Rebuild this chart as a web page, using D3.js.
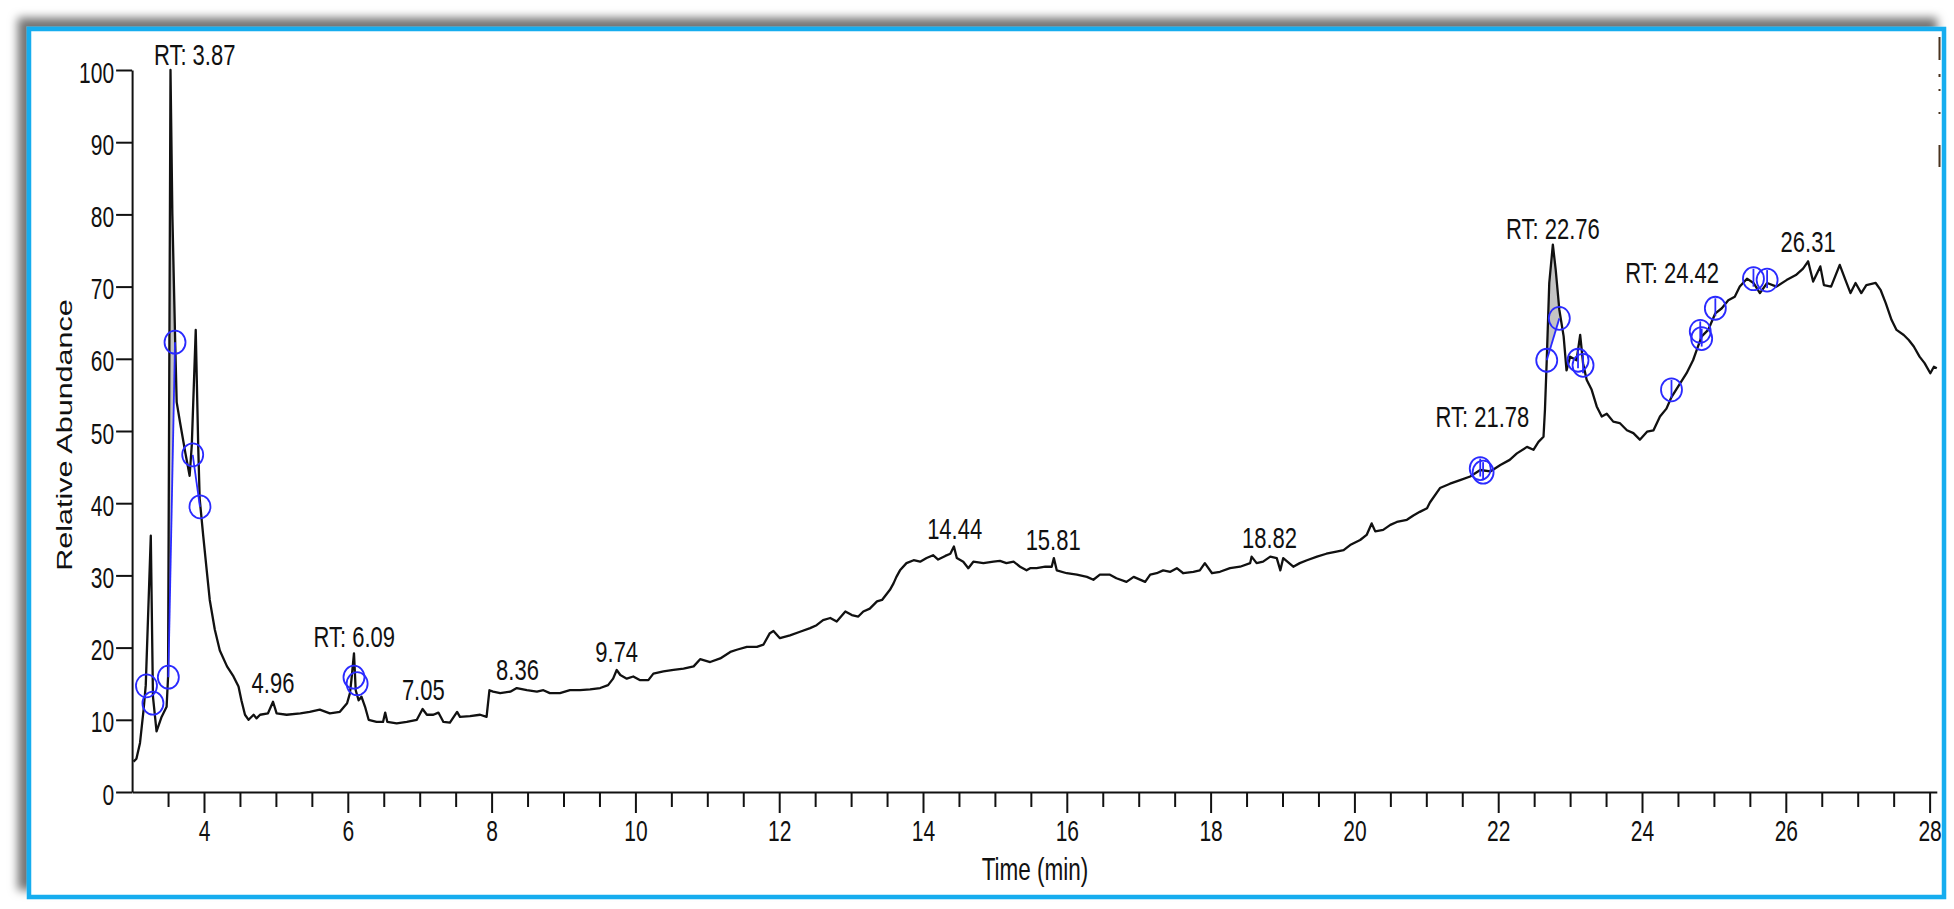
<!DOCTYPE html>
<html>
<head>
<meta charset="utf-8">
<script src="https://cdn.jsdelivr.net/npm/d3@7"></script>
<style>
	html, body {
		padding: 0;
		margin: 0;
		background: #fff;
	}
	svg { display: block; }
</style>
</head>
<body>
<script>
	var width = 1954, height = 909;
	var stretch = 1.37;   // the source picture is stretched vertically

	// chromatogram trace, [time (min), relative abundance]
	var trace = [
		[3.02,4.2],[3.06,4.6],[3.11,6.8],[3.16,11.4],[3.19,14.8],[3.26,35.5],[3.29,13.2],[3.34,8.4],
		[3.41,10.4],[3.48,11.8],[3.50,15.9],[3.534,100],[3.56,80],[3.60,62],[3.62,54],[3.67,51],
		[3.74,47],[3.80,43.8],[3.83,48],[3.885,64],[3.92,47.7],[3.94,40.6],[3.99,35.4],[4.04,30.5],
		[4.08,26.6],[4.15,22.5],[4.22,19.6],[4.32,17.4],[4.41,16.0],[4.48,14.6],[4.52,12.7],[4.57,10.7],
		[4.62,10.0],[4.69,10.7],[4.73,10.2],[4.78,10.7],[4.89,10.9],[4.96,12.5],[5.01,10.9],[5.15,10.7],
		[5.34,10.9],[5.47,11.1],[5.61,11.4],[5.75,10.9],[5.89,11.1],[5.99,12.3],[6.03,13.7],[6.05,15.5],
		[6.086,19.2],[6.11,14.1],[6.15,12.7],[6.19,13.2],[6.24,11.8],[6.29,10.0],[6.40,9.7],[6.49,9.7],
		[6.52,11.0],[6.55,9.7],[6.68,9.5],[6.82,9.7],[6.96,10.0],[7.04,11.5],[7.10,10.7],[7.19,10.7],
		[7.26,11.0],[7.33,9.7],[7.42,9.6],[7.52,11.1],[7.56,10.4],[7.70,10.5],[7.84,10.7],[7.93,10.4],
		[7.97,14.1],[8.02,13.9],[8.12,13.7],[8.26,13.9],[8.35,14.4],[8.49,14.1],[8.63,13.9],[8.72,14.1],
		[8.81,13.7],[8.95,13.7],[9.09,14.1],[9.23,14.1],[9.37,14.2],[9.51,14.4],[9.62,14.8],[9.69,15.7],
		[9.74,16.9],[9.79,16.2],[9.88,15.7],[9.97,16.0],[10.06,15.5],[10.18,15.5],[10.25,16.4],[10.39,16.7],
		[10.53,16.9],[10.67,17.1],[10.81,17.4],[10.90,18.4],[11.04,18.0],[11.18,18.5],[11.32,19.4],[11.41,19.7],
		[11.55,20.1],[11.69,20.1],[11.78,20.4],[11.87,22.0],[11.92,22.3],[12.01,21.3],[12.15,21.7],[12.29,22.2],
		[12.43,22.7],[12.52,23.1],[12.61,23.8],[12.71,24.1],[12.80,23.6],[12.92,25.0],[13.01,24.5],[13.10,24.3],
		[13.17,25.0],[13.26,25.4],[13.36,26.4],[13.43,26.6],[13.50,27.5],[13.54,28.0],[13.59,28.9],[13.63,29.8],
		[13.68,30.7],[13.77,31.7],[13.87,32.1],[13.96,31.9],[14.05,32.4],[14.14,32.8],[14.21,32.2],[14.31,32.7],
		[14.38,33.0],[14.43,34.0],[14.47,32.4],[14.56,31.9],[14.63,31.0],[14.70,31.9],[14.84,31.7],[14.98,31.9],
		[15.07,32.0],[15.16,31.7],[15.26,31.9],[15.35,31.2],[15.44,30.7],[15.49,31.0],[15.58,31.0],[15.70,31.2],
		[15.79,31.2],[15.82,32.4],[15.86,30.7],[16.00,30.3],[16.14,30.1],[16.28,29.8],[16.37,29.4],[16.46,30.1],
		[16.60,30.1],[16.69,29.6],[16.83,29.1],[16.93,29.8],[17.09,29.1],[17.16,30.1],[17.25,30.3],[17.34,30.7],
		[17.44,30.5],[17.53,31.0],[17.62,30.3],[17.76,30.5],[17.85,30.7],[17.92,31.7],[18.02,30.3],[18.13,30.5],
		[18.27,31.0],[18.41,31.2],[18.55,31.7],[18.57,32.6],[18.64,31.7],[18.73,31.9],[18.83,32.6],[18.92,32.4],
		[18.97,30.7],[19.01,32.4],[19.15,31.2],[19.24,31.7],[19.34,32.1],[19.48,32.6],[19.61,33.0],[19.75,33.3],
		[19.85,33.5],[19.94,34.2],[20.08,34.9],[20.17,35.6],[20.24,37.2],[20.29,36.1],[20.40,36.3],[20.50,37.0],
		[20.59,37.4],[20.73,37.7],[20.82,38.3],[20.91,38.8],[21.01,39.3],[21.05,40.1],[21.19,42.1],[21.33,42.7],
		[21.47,43.2],[21.61,43.7],[21.75,44.6],[21.89,44.4],[22.03,45.3],[22.16,46.0],[22.26,46.9],[22.40,47.8],
		[22.49,47.4],[22.56,48.5],[22.63,49.2],[22.65,52.9],[22.675,59.8],[22.71,70.5],[22.76,75.8],[22.80,72.3],
		[22.85,66.8],[22.91,63.1],[22.95,58.4],[23.00,60.3],[23.09,59.8],[23.14,63.3],[23.18,59.4],[23.23,57.1],
		[23.30,55.7],[23.37,53.4],[23.44,52.0],[23.51,52.4],[23.60,51.3],[23.69,51.1],[23.79,50.1],[23.88,49.7],
		[23.97,48.8],[24.07,49.9],[24.16,50.1],[24.25,52.0],[24.34,53.1],[24.41,54.7],[24.53,56.6],[24.62,58.0],
		[24.71,59.8],[24.76,61.2],[24.83,63.1],[24.92,64.0],[25.02,66.3],[25.11,67.0],[25.20,68.1],[25.29,68.6],
		[25.36,70.0],[25.46,71.1],[25.55,70.5],[25.64,69.1],[25.74,70.5],[25.87,70.0],[26.01,70.9],[26.14,71.6],
		[26.24,72.5],[26.31,73.5],[26.38,70.7],[26.48,72.8],[26.53,70.2],[26.63,70.0],[26.75,73.0],[26.83,70.9],
		[26.90,69.1],[26.97,70.5],[27.05,69.1],[27.12,70.2],[27.25,70.5],[27.32,69.5],[27.39,67.7],[27.47,65.4],
		[27.54,64.0],[27.64,63.3],[27.71,62.6],[27.78,61.7],[27.86,60.3],[27.93,59.4],[28.01,58.0],[28.06,58.9],
		[28.10,58.7]
	];

	// blue marker circles [time, abundance, has vertical cursor]
	var markers = [
		[3.20,14.7,0],[3.29,12.3,0],[3.504,15.9,0],[3.597,62.3,0],[3.843,46.7,0],[3.944,39.5,0],
		[6.086,15.9,0],[6.13,15.0,0],
		[21.75,44.8,1],[21.79,44.3,1],[22.675,59.8,0],[22.85,65.6,0],[23.11,59.8,1],[23.18,59.1,1],
		[24.41,55.7,1],[24.81,63.8,1],[24.83,62.8,1],[25.02,67.0,1],[25.55,71.1,1],[25.74,70.9,1]
	];
	// marker pairs joined by a blue line, area between line and trace shaded
	var markerLinks = [[2,3],[4,5],[10,11]];
	var shadedPeaks = [[2,3],[10,11]];

	// peak labels [text, time, abundance of baseline]
	var peakLabels = [
		["RT: 3.87",3.87,100.7],["4.96",4.96,13.7],["RT: 6.09",6.09,20.1],["7.05",7.05,12.7],
		["8.36",8.36,15.5],["9.74",9.74,18.0],["14.44",14.44,35.0],["15.81",15.81,33.5],
		["18.82",18.82,33.8],["RT: 21.78",21.78,50.6],["RT: 22.76",22.76,76.6],
		["RT: 24.42",24.42,70.5],["26.31",26.31,74.8]
	];

	var xMajor = [4,6,8,10,12,14,16,18,20,22,24,26,28];
	var xMinor = d3.range(3.5, 28.01, 0.5).filter(function(d){ return xMajor.indexOf(d) < 0; });
	var yTicks = [0,10,20,30,40,50,60,70,80,90,100];

	var font = '"Liberation Sans", Arial, sans-serif';

	var svg = d3.select('body').append('svg')
		.attr('width', width)
		.attr('height', height);

	var defs = svg.append('defs');
	defs.append('filter').attr('id', 'shadow')
		.attr('x', '-3%').attr('y', '-5%').attr('width', '106%').attr('height', '110%')
		.append('feDropShadow')
		.attr('dx', -9).attr('dy', -9).attr('stdDeviation', 5)
		.attr('flood-color', '#000').attr('flood-opacity', 0.55);

	// frame
	svg.append('rect')
		.attr('x', 29).attr('y', 29).attr('width', 1915).attr('height', 868)
		.attr('fill', '#fff')
		.attr('stroke', '#12adef')
		.attr('stroke-width', 4.5)
		.attr('filter', 'url(#shadow)');

	var x = d3.scaleLinear().domain([3, 28.1]).range([132.1, 1936.8]);
	var y = d3.scaleLinear().domain([0, 100]).range([792, 70]);

	// x axis, minor then major ticks
	var gxMinor = svg.append('g')
		.attr('transform', 'translate(0,' + y(0) + ')')
		.call(d3.axisBottom(x).tickValues(xMinor).tickSize(15).tickSizeOuter(0).tickFormat(''));
	gxMinor.select('.domain').remove();

	var gx = svg.append('g')
		.attr('transform', 'translate(0,' + y(0) + ')')
		.call(d3.axisBottom(x).tickValues(xMajor).tickSize(21).tickSizeOuter(0).tickFormat(d3.format('d')))
		.attr('font-family', font).attr('font-size', 21).attr('color', '#111');
	gx.selectAll('.tick text')
		.attr('y', 35.8).attr('dy', 0)
		.attr('transform', 'scale(1,' + stretch + ')');

	var gy = svg.append('g')
		.attr('transform', 'translate(' + x(3) + ',0)')
		.call(d3.axisLeft(y).tickValues(yTicks).tickSize(16).tickSizeOuter(0))
		.attr('font-family', font).attr('font-size', 21).attr('color', '#111');
	gy.selectAll('.tick text')
		.attr('x', -18).attr('dy', 0).attr('y', 0)
		.attr('transform', 'translate(0,12) scale(1,' + stretch + ')');

	svg.selectAll('.domain, .tick line')
		.attr('stroke', '#111').attr('stroke-width', 2);

	// axis titles
	svg.append('text')
		.attr('transform', 'translate(1035,880) scale(1,' + stretch + ')')
		.attr('text-anchor', 'middle')
		.attr('font-family', font).attr('font-size', 22.5).attr('fill', '#111')
		.text('Time (min)');

	svg.append('text')
		.attr('transform', 'translate(72,435) scale(1,' + stretch + ') rotate(-90)')
		.attr('text-anchor', 'middle')
		.attr('font-family', font).attr('font-size', 22.3).attr('fill', '#111')
		.text('Relative Abundance');

	var line = d3.line()
		.x(function(d){ return x(d[0]); })
		.y(function(d){ return y(d[1]); });

	// shaded peak areas, trace between two markers closed by a straight line
	shadedPeaks.forEach(function(p){
		var a = markers[p[0]], b = markers[p[1]];
		var pts = [[a[0], a[1]]].concat(trace.filter(function(d){ return d[0] > a[0] && d[0] < b[0]; }), [[b[0], b[1]]]);
		svg.append('path')
			.attr('d', line(pts) + 'Z')
			.attr('fill', '#c4c4c4')
			.attr('stroke', 'none');
	});

	svg.append('path')
		.datum(trace)
		.attr('d', line)
		.attr('fill', 'none')
		.attr('stroke', '#111')
		.attr('stroke-width', 2.3)
		.attr('stroke-linejoin', 'round');

	// marker links and cursors
	svg.selectAll('.link')
		.data(markerLinks)
		.enter().append('line')
		.attr('x1', function(d){ return x(markers[d[0]][0]); })
		.attr('y1', function(d){ return y(markers[d[0]][1]); })
		.attr('x2', function(d){ return x(markers[d[1]][0]); })
		.attr('y2', function(d){ return y(markers[d[1]][1]); })
		.attr('stroke', '#2a2aff').attr('stroke-width', 1.8);

	svg.selectAll('.cursor')
		.data(markers.filter(function(d){ return d[2]; }))
		.enter().append('line')
		.attr('x1', function(d){ return x(d[0]); })
		.attr('x2', function(d){ return x(d[0]); })
		.attr('y1', function(d){ return y(d[1]) - 10; })
		.attr('y2', function(d){ return y(d[1]) + 8; })
		.attr('stroke', '#2a2aff').attr('stroke-width', 1.8);

	svg.selectAll('.marker')
		.data(markers)
		.enter().append('ellipse')
		.attr('cx', function(d){ return x(d[0]); })
		.attr('cy', function(d){ return y(d[1]); })
		.attr('rx', 10.5).attr('ry', 11.5)
		.attr('fill', 'none')
		.attr('stroke', '#2a2aff').attr('stroke-width', 1.8);

	// peak labels
	svg.selectAll('.plabel')
		.data(peakLabels)
		.enter().append('text')
		.attr('transform', function(d){ return 'translate(' + x(d[1]) + ',' + y(d[2]) + ') scale(1,' + stretch + ')'; })
		.attr('text-anchor', 'middle')
		.attr('font-family', font).attr('font-size', 22).attr('fill', '#111')
		.text(function(d){ return d[0]; });

	// cropped marks at the right edge of the frame
	[[37,60],[74,77],[89,91],[112,114],[145,167]].forEach(function(s){
		svg.append('line')
			.attr('x1', 1939.5).attr('x2', 1939.5).attr('y1', s[0]).attr('y2', s[1])
			.attr('stroke', '#4a3420').attr('stroke-width', 2);
	});
</script>
</body>
</html>
